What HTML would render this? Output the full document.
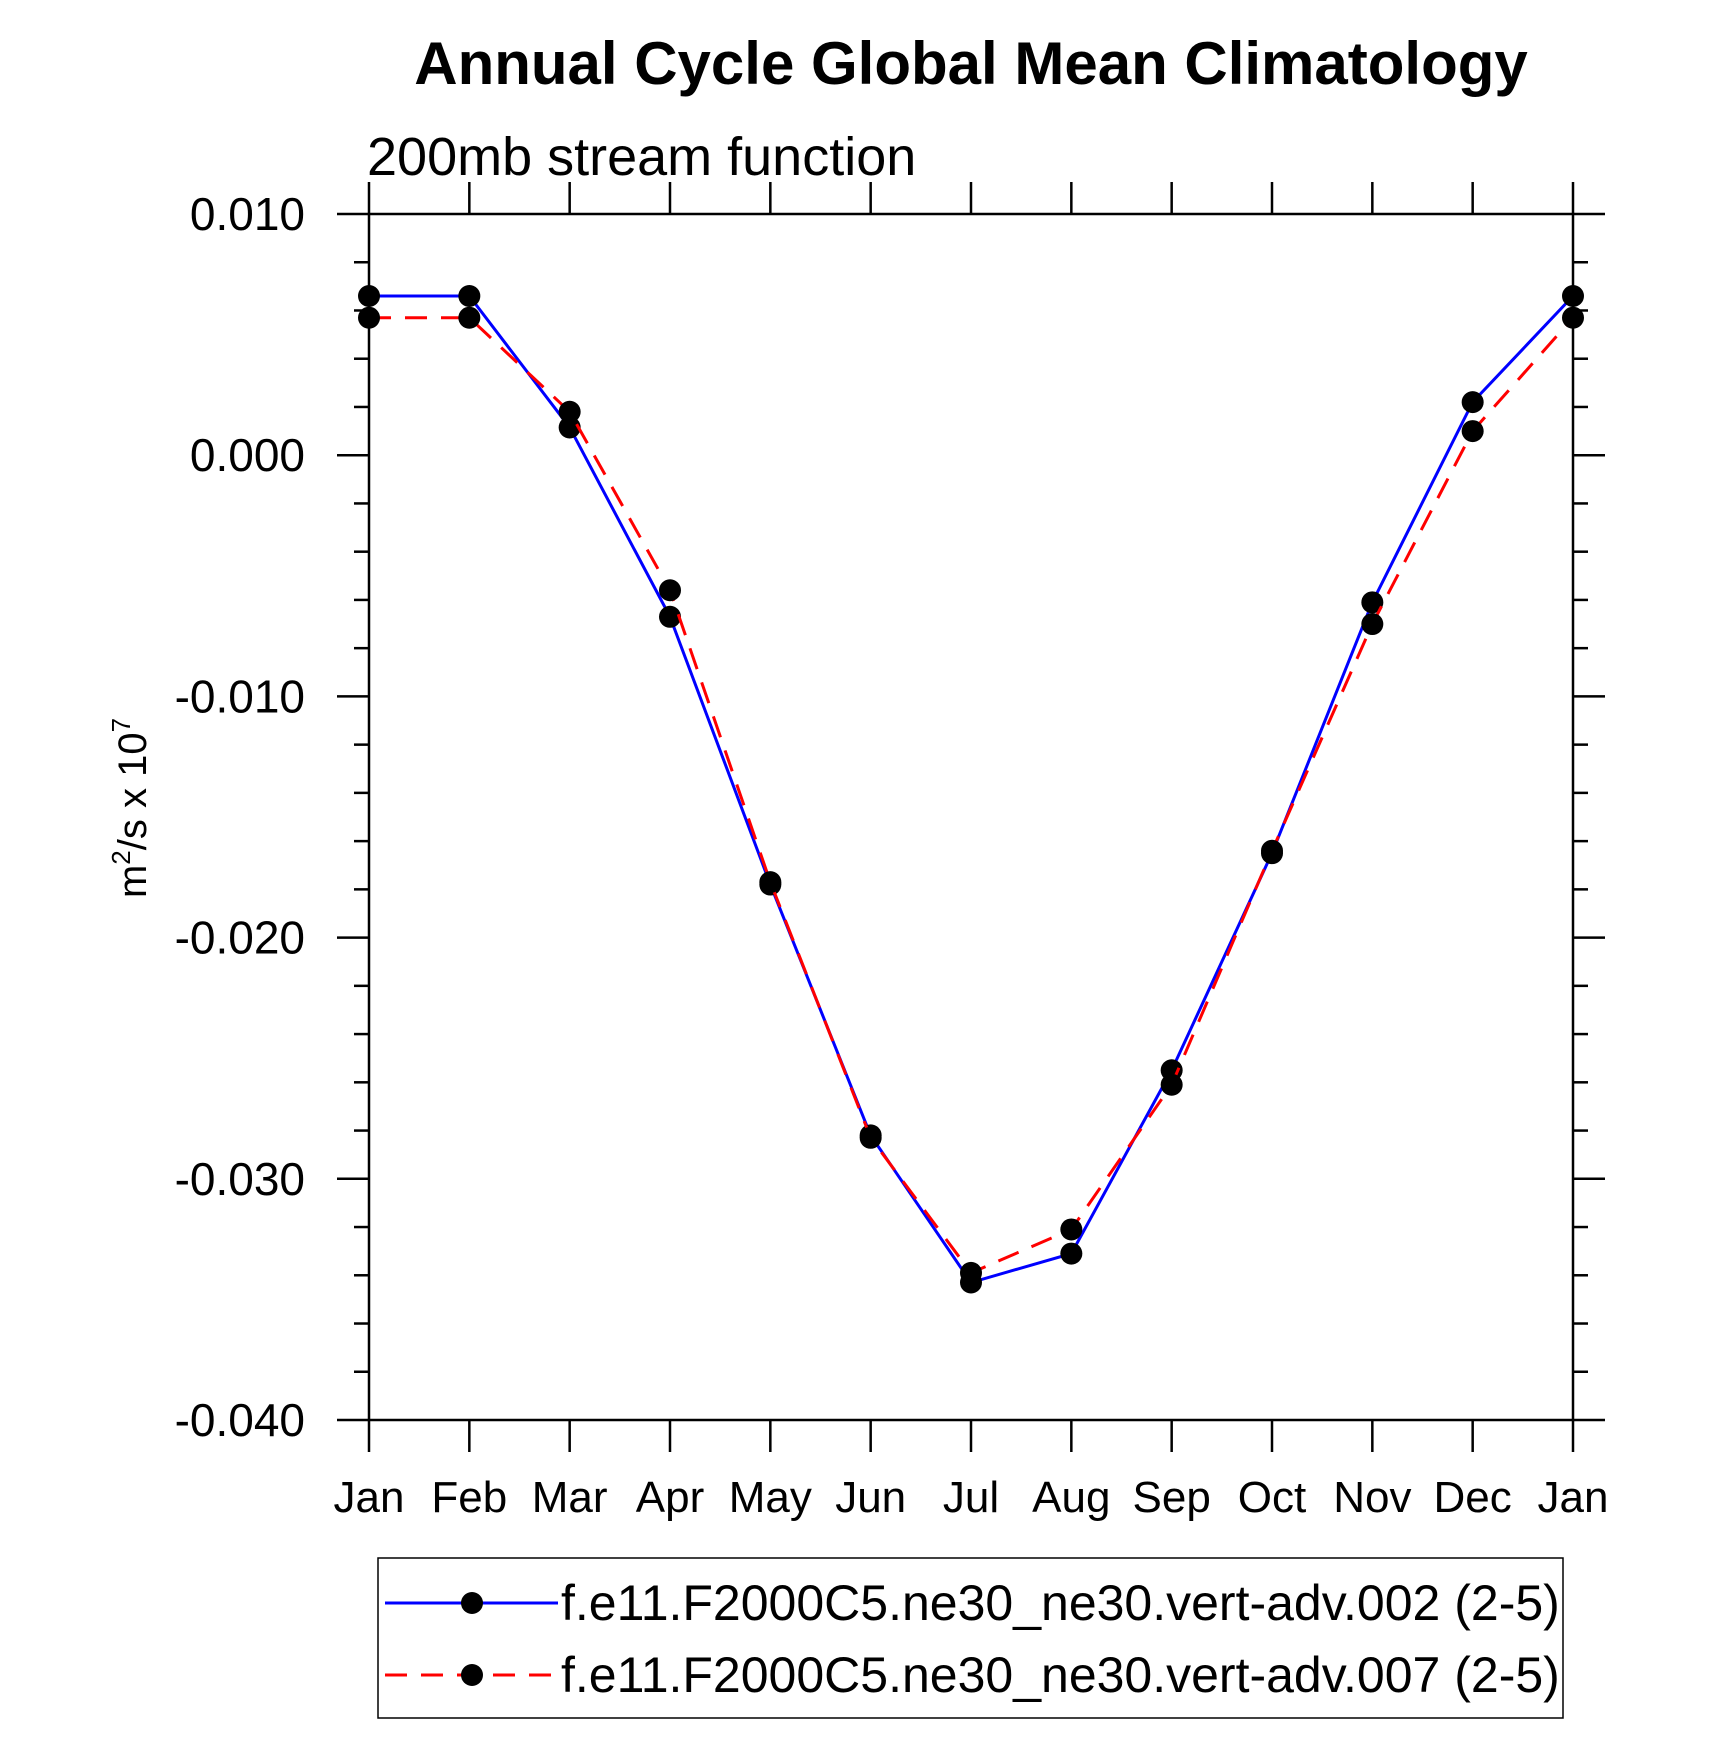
<!DOCTYPE html>
<html><head><meta charset="utf-8"><style>
html,body{margin:0;padding:0;background:#fff}
svg{display:block;font-family:"Liberation Sans",sans-serif}
</style></head><body>
<svg id="chart" width="1710" height="1758" viewBox="0 0 1710 1758" xmlns="http://www.w3.org/2000/svg">
<text x="971" y="84" text-anchor="middle" font-size="60" font-weight="bold">Annual Cycle Global Mean Climatology</text>
<text x="367" y="175" font-size="54">200mb stream function</text>
<text transform="translate(146,808) rotate(-90)" text-anchor="middle" font-size="40">m<tspan font-size="26" dy="-16">2</tspan><tspan dy="16">/s x 10</tspan><tspan font-size="26" dy="-16">7</tspan></text>
<g id="axes"></g>
<g id="series"></g>
<rect x="378" y="1558" width="1185" height="160" fill="none" stroke="#000" stroke-width="1.5"/>
<g>
<line x1="385" y1="1603" x2="558" y2="1603" stroke="#0000ff" stroke-width="3"/>
<circle cx="472" cy="1603" r="11" fill="#000"/>
<text x="561" y="1620" font-size="50">f.e11.F2000C5.ne30_ne30.vert-adv.002 (2-5)</text>
</g>
<g>
<line x1="385" y1="1675" x2="558" y2="1675" stroke="#ff0000" stroke-width="3" stroke-dasharray="22,14"/>
<circle cx="472" cy="1675" r="11" fill="#000"/>
<text x="561" y="1692" font-size="50">f.e11.F2000C5.ne30_ne30.vert-adv.007 (2-5)</text>
</g>
</svg>
<script>
const months = ["Jan","Feb","Mar","Apr","May","Jun","Jul","Aug","Sep","Oct","Nov","Dec","Jan"];
const series002 = [0.0066,0.0066,0.00115,-0.0067,-0.0178,-0.0282,-0.0343,-0.0331,-0.0255,-0.0165,-0.0061,0.0022,0.0066];
const series007 = [0.0057,0.0057,0.0018,-0.0056,-0.0177,-0.0283,-0.0339,-0.0321,-0.0261,-0.0164,-0.0070,0.0010,0.0057];
const yTicks = [0.010,0.000,-0.010,-0.020,-0.030,-0.040];
const yTickLabels = ["0.010","0.000","-0.010","-0.020","-0.030","-0.040"];
const L=369,R=1573,T=214,B=1420,yMax=0.010,yMin=-0.040;
const NS="http://www.w3.org/2000/svg";
function xs(i){return L+(R-L)*i/(months.length-1);}
function ys(v){return T+(yMax-v)/(yMax-yMin)*(B-T);}
function mk(tag,attrs,parent){const e=document.createElementNS(NS,tag);for(const k in attrs)e.setAttribute(k,attrs[k]);parent.appendChild(e);return e;}
const ax=document.getElementById('axes');
const frame=mk('rect',{x:L,y:T,width:R-L,height:B-T,fill:'none',stroke:'#000','stroke-width':2.5},ax);


for(let v=-0.040;v<=0.0101;v+=0.002){
  const major=Math.abs(Math.round(v*1000)%10)===0;
  const len=major?32:15;const y=ys(v);
  const t1=mk('line',{x1:L-len,y1:y,x2:L,y2:y,stroke:'#000','stroke-width':2.5},ax);
  
  
  const t2=mk('line',{x1:R,y1:y,x2:R+len,y2:y,stroke:'#000','stroke-width':2.5},ax);
  
  
}
yTicks.forEach((v,i)=>{
  const t=mk('text',{x:305,y:ys(v)+16,'text-anchor':'end','font-size':46},ax);
  t.textContent=yTickLabels[i];
  
  
});
months.forEach((m,i)=>{
  const x=xs(i);
  const b=mk('line',{x1:x,y1:B,x2:x,y2:B+32,stroke:'#000','stroke-width':2.5},ax);
  
  
  const t=mk('line',{x1:x,y1:T-32,x2:x,y2:T,stroke:'#000','stroke-width':2.5},ax);
  
  
  const l=mk('text',{x:x,y:1512,'text-anchor':'middle','font-size':44},ax);
  l.textContent=m;
  
  
});
const sg=document.getElementById('series');
function draw(vals,color,dash,name){
  const pts=vals.map((v,i)=>xs(i)+','+ys(v)).join(' ');
  const a={points:pts,fill:'none',stroke:color,'stroke-width':3};
  if(dash)a['stroke-dasharray']=dash;
  const pl=mk('polyline',a,sg);
  
  
  vals.forEach((v,i)=>{
    const c=mk('circle',{cx:xs(i),cy:ys(v),r:11,fill:'#000'},sg);
    
    
  });
}
draw(series002,'#0000ff',null,'series-002');
draw(series007,'#ff0000','22,14','series-007');
</script>
</body></html>
